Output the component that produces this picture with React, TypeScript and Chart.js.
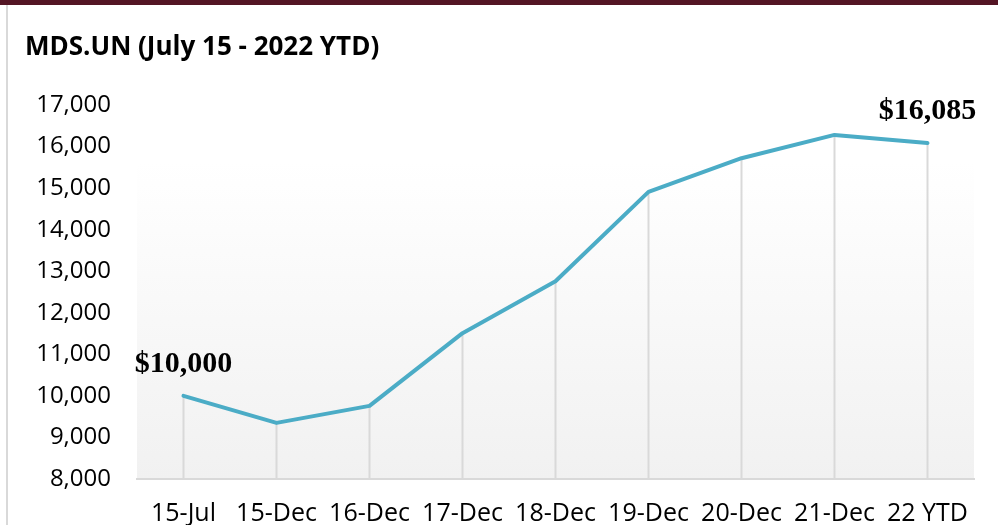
import React, { useEffect, useRef } from 'react';
import { Chart, registerables } from 'chart.js';

Chart.register(...registerables);

const title = 'MDS.UN (July 15 - 2022 YTD)';
const categories = ['15-Jul', '15-Dec', '16-Dec', '17-Dec', '18-Dec', '19-Dec', '20-Dec', '21-Dec', '22 YTD'];
const values = [10000, 9350, 9760, 11510, 12760, 14910, 15720, 16280, 16085];
const yMin = 8000;
const yMax = 17000;
const yStep = 1000;
const labelIndices = [0, 8];
const labelTexts = ['$10,000', '$16,085'];

const W = 998;
const H = 525;

const decorPlugin = {
  id: 'decor',
  beforeDraw(chart: any) {
    const { ctx, chartArea } = chart;
    ctx.save();
    ctx.fillStyle = '#ffffff';
    ctx.fillRect(0, 0, W, H);
    ctx.fillStyle = '#541524';
    ctx.fillRect(0, 0, W, 5);
    ctx.strokeStyle = '#d9d9d9';
    ctx.lineWidth = 2;
    ctx.beginPath();
    ctx.moveTo(7, 5);
    ctx.lineTo(7, H);
    ctx.stroke();
    const g = ctx.createLinearGradient(0, chartArea.top, 0, chartArea.bottom);
    g.addColorStop(0, '#ffffff');
    g.addColorStop(0.15, '#ffffff');
    g.addColorStop(1, '#f1f1f1');
    ctx.fillStyle = g;
    ctx.fillRect(chartArea.left, chartArea.top, chartArea.right - chartArea.left, chartArea.bottom - chartArea.top);
    ctx.fillStyle = '#000000';
    ctx.font = 'bold 26px "Open Sans"';
    ctx.textAlign = 'left';
    ctx.textBaseline = 'alphabetic';
    ctx.fillText(title, 25, 55);
    ctx.restore();
  },
  beforeDatasetsDraw(chart: any) {
    const { ctx, chartArea } = chart;
    const meta = chart.getDatasetMeta(0);
    ctx.save();
    ctx.strokeStyle = '#d9d9d9';
    ctx.lineWidth = 2;
    meta.data.forEach((p: any) => {
      ctx.beginPath();
      ctx.moveTo(p.x, p.y);
      ctx.lineTo(p.x, chartArea.bottom);
      ctx.stroke();
    });
    ctx.restore();
  },
  afterDatasetsDraw(chart: any) {
    const { ctx } = chart;
    const meta = chart.getDatasetMeta(0);
    ctx.save();
    ctx.fillStyle = '#000000';
    ctx.font = 'bold 30px "Liberation Serif"';
    ctx.textAlign = 'center';
    ctx.textBaseline = 'alphabetic';
    labelIndices.forEach((idx, i) => {
      const p = meta.data[idx];
      ctx.fillText(labelTexts[i], p.x, p.y - 24);
    });
    ctx.restore();
  },
};

export default function App() {
  const ref = useRef<HTMLCanvasElement | null>(null);
  useEffect(() => {
    if (!ref.current) return;
    const chart = new Chart(ref.current, {
      type: 'line',
      data: {
        labels: categories,
        datasets: [
          {
            data: values,
            borderColor: '#4BACC6',
            borderWidth: 4,
            pointRadius: 0,
            tension: 0,
            borderJoinStyle: 'round',
            borderCapStyle: 'round',
            fill: false,
          },
        ],
      },
      options: {
        animation: false,
        responsive: false,
        devicePixelRatio: 1,
        layout: { padding: { top: 105, right: 24, left: 0, bottom: 0 } },
        plugins: { legend: { display: false }, tooltip: { enabled: false }, title: { display: false } },
        scales: {
          x: {
            type: 'category',
            offset: true,
            grid: { display: false, drawTicks: false },
            border: { display: true, color: '#d9d9d9', width: 2 },
            ticks: {
              color: '#000000',
              font: { family: '"Open Sans"', size: 25 },
              padding: 20,
              maxRotation: 0,
              autoSkip: false,
            },
            afterFit(scale: any) {
              scale.height = 46;
            },
          },
          y: {
            min: yMin,
            max: yMax,
            grid: { display: false, drawTicks: false },
            border: { display: false },
            ticks: {
              stepSize: yStep,
              color: '#000000',
              font: { family: '"Open Sans"', size: 24 },
              padding: 26,
              callback: (v: any) => Number(v).toLocaleString('en-US'),
            },
            afterFit(scale: any) {
              scale.width = 137;
            },
          },
        },
      },
      plugins: [decorPlugin],
    });
    return () => chart.destroy();
  }, []);
  return (
    <div style={{ position: 'fixed', left: 0, top: 0, width: W, height: H, background: '#fff' }}>
      <canvas ref={ref} width={W} height={H} style={{ display: 'block', width: W, height: H }} />
    </div>
  );
}
